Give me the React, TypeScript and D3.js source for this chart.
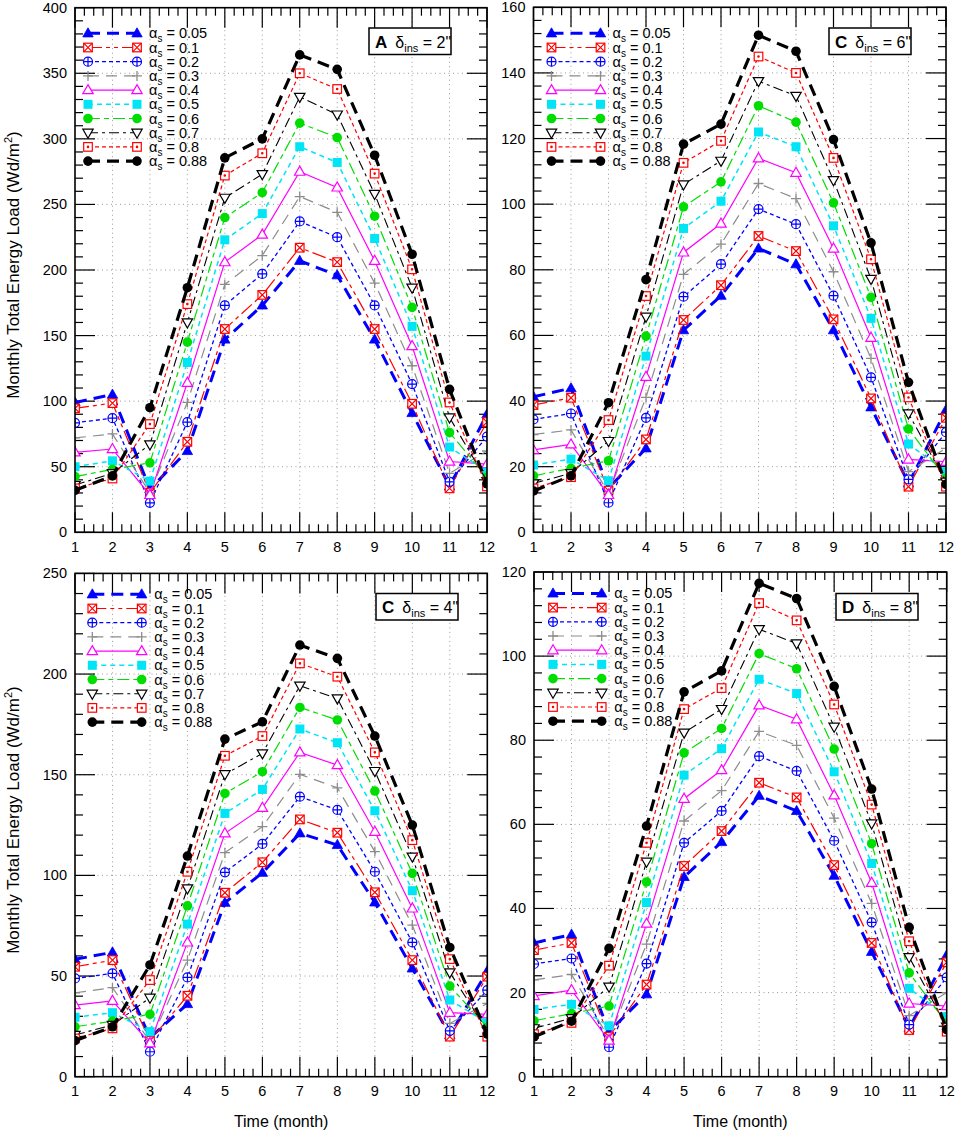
import React from "react";
import * as d3 from "d3";

// months on the x axis
const MONTHS = [1, 2, 3, 4, 5, 6, 7, 8, 9, 10, 11, 12];

// solar absorptivity of each curve
const ALPHAS = ["0.05", "0.1", "0.2", "0.3", "0.4", "0.5", "0.6", "0.7", "0.8", "0.88"];

// monthly total energy load (Wd/m2), one row per alpha, insulation 2"
const LOAD_2IN = [
    [99, 105, 33, 62, 147, 173, 207, 196, 147, 91, 35, 90],
    [94.5, 98.5, 30, 69, 155, 181, 217, 206, 155, 98, 33.5, 84],
    [83.5, 87, 22.5, 84, 173, 197, 237, 225, 173, 113, 38.5, 73],
    [72, 75, 30, 99, 189, 211, 256, 244, 190, 127, 45, 62],
    [61, 63.5, 28.5, 114, 206, 227, 275, 263, 207, 142, 54, 52],
    [50, 54.5, 39, 129.5, 223, 243, 294, 282, 224, 157, 65, 46],
    [42.5, 48, 53, 145, 240, 259, 312, 301, 241, 171.5, 76, 42],
    [36, 45, 67, 160, 255, 273, 332, 318.5, 258, 186.5, 87.5, 39],
    [33.5, 41, 82.5, 174, 272, 289, 350, 338, 273.5, 200.5, 99, 35],
    [32, 43, 95, 186.5, 285.5, 300, 364, 353, 287.5, 212, 109, 37],
];

// insulation 6"
const LOAD_6IN = [
    [41.3, 43.9, 13.4, 25.6, 61.6, 72.1, 86.5, 81.7, 61.6, 38.1, 14.9, 37.3],
    [38.8, 41, 12.7, 28.3, 64.7, 75.3, 90.3, 85.7, 64.9, 40.8, 13.9, 34.9],
    [34.4, 36.2, 9, 34.9, 71.8, 81.7, 98.5, 93.9, 72.1, 47.2, 16.1, 30.5],
    [29.8, 31.2, 11.9, 41.1, 78.6, 87.8, 106.3, 101.7, 79.4, 53, 18.5, 25.6],
    [25.1, 26.8, 11.4, 47.4, 85.3, 94.1, 114, 109.6, 86.5, 59.3, 22.2, 21.5],
    [20.5, 22.3, 15.7, 53.7, 92.6, 100.9, 122, 117.5, 93.4, 65.2, 26.9, 18.5],
    [17.2, 19.5, 21.8, 59.8, 99.2, 106.8, 130, 125, 100.4, 71.6, 31.5, 16.4],
    [14.9, 18, 27.8, 65.7, 106, 113.2, 137.5, 133, 107.3, 77.2, 36.2, 15.4],
    [13.4, 16.8, 34.2, 72, 112.6, 119.3, 145, 140, 114.1, 83.2, 41.1, 13.9],
    [12.6, 17.2, 39.5, 77, 118.3, 124.4, 151.5, 146.6, 119.7, 88.2, 45.7, 14.6],
];

// insulation 4"
const LOAD_4IN = [
    [58.3, 61.8, 19.4, 36.1, 86.4, 101.3, 120.9, 115.1, 86.6, 53.8, 20.7, 52.5],
    [54.6, 57.9, 17.9, 40.2, 91.4, 106.5, 127.8, 121.2, 91.6, 57.9, 19.9, 49.7],
    [48.8, 51.3, 12.4, 49.3, 101.5, 115.6, 139.1, 132.5, 101.8, 66.7, 22.8, 43],
    [41.7, 44.2, 17.4, 57.9, 111.3, 124.2, 150.2, 143.5, 111.8, 75.3, 26.5, 36.4],
    [35.6, 37.7, 16.6, 66.7, 120.9, 133.6, 161.1, 154.8, 121.7, 83.6, 31.8, 31],
    [29.5, 31.8, 22.4, 75.8, 130.8, 142.7, 172.7, 165.9, 132.1, 92.4, 38.1, 26.8],
    [24.8, 27.6, 31, 84.9, 140.7, 151.5, 183.4, 177.2, 141.9, 101, 45, 24.5],
    [20.7, 25.7, 39.2, 93.5, 150.2, 160.6, 194.2, 187.9, 151.8, 109.3, 51.8, 22.8],
    [19, 24, 48, 101.8, 159.4, 169.2, 205.3, 198.7, 161.1, 117.5, 58.4, 19.9],
    [17.9, 24.8, 55.5, 109.6, 167.7, 176.3, 214.4, 207.8, 169.2, 125, 64.2, 21.2],
];

// insulation 8"
const LOAD_8IN = [
    [31.8, 33.8, 10.7, 19.6, 47.5, 55.8, 66.8, 63.2, 47.8, 29.7, 11.5, 28.9],
    [30.1, 31.8, 9.5, 21.9, 50.1, 58.4, 69.9, 66.4, 50.3, 31.8, 11.1, 27.2],
    [26.8, 28.1, 7, 26.9, 55.6, 63.2, 76.2, 72.7, 56.1, 36.7, 12.4, 23.6],
    [23, 24.3, 9.1, 31.5, 60.8, 68, 82.1, 78.8, 61.5, 41.2, 14.5, 20],
    [19.2, 20.6, 8.6, 36.4, 66.1, 72.9, 88.3, 85, 66.9, 46.1, 17.4, 16.8],
    [16, 17.2, 12.1, 41.4, 71.7, 78, 94.5, 91.1, 72.5, 50.7, 21, 14.3],
    [13.3, 15, 16.8, 46.3, 77, 82.8, 100.6, 97, 77.9, 55.4, 24.7, 12.7],
    [11.5, 13.9, 21.4, 51.1, 81.8, 87.4, 106.4, 103, 83.2, 60.2, 28.4, 11.9],
    [10.1, 12.8, 26.4, 55.6, 87.4, 92.4, 112.6, 108.5, 88.5, 64.7, 32.2, 10.7],
    [9.5, 13.2, 30.5, 59.6, 91.5, 96.5, 117.3, 113.7, 92.8, 68.4, 35.5, 11.2],
];

const FONT = "'Liberation Sans', Arial, Helvetica, sans-serif";

type MarkerKind = "triUp" | "squareX" | "circlePlus" | "plus" | "triUpOpen" | "square" | "circle" | "triDown" | "squareDot";

interface SeriesStyle { color: string; width: number; dash: string; marker: MarkerKind }

const STYLES: SeriesStyle[] = [
    { color: "#0000ff", width: 3, dash: "12,7", marker: "triUp" },
    { color: "#ff0000", width: 1.2, dash: "14,4,4,4,4,4", marker: "squareX" },
    { color: "#0000ff", width: 1.3, dash: "4,3", marker: "circlePlus" },
    { color: "#8c8c8c", width: 1.2, dash: "11,7", marker: "plus" },
    { color: "#ff00ff", width: 1.2, dash: "", marker: "triUpOpen" },
    { color: "#00e5f5", width: 1.5, dash: "5,4", marker: "square" },
    { color: "#00dd00", width: 1.2, dash: "12,4,5,4", marker: "circle" },
    { color: "#000000", width: 1.1, dash: "10,4,3,4", marker: "triDown" },
    { color: "#ff0000", width: 1.2, dash: "4,3", marker: "squareDot" },
    { color: "#000000", width: 3.2, dash: "12,7", marker: "circle" },
];

interface PanelConfig {
    id: string;
    letter: string;
    ins: string;
    data: number[][];
    yMax: number;
    yStep: number;
    left: number;
    right: number;
    top: number;
    bottom: number;
    legend: [number, number, number, number];
    box: [number, number];
    yLabel: boolean;
    xLabel: boolean;
}

const PANELS: PanelConfig[] = [
    { id: "a", letter: "A", ins: "2\"", data: LOAD_2IN, yMax: 400, yStep: 50, left: 75, right: 487, top: 7.7, bottom: 532.3,
        legend: [88, 137, 149, 33.3], box: [369, 28], yLabel: true, xLabel: false },
    { id: "b", letter: "C", ins: "6\"", data: LOAD_6IN, yMax: 160, yStep: 20, left: 533.5, right: 946, top: 7.3, bottom: 532.3,
        legend: [551.5, 600.5, 612.5, 33.3], box: [829, 28], yLabel: false, xLabel: false },
    { id: "c", letter: "C", ins: "4\"", data: LOAD_4IN, yMax: 250, yStep: 50, left: 75, right: 487.3, top: 573.4, bottom: 1076.7,
        legend: [92.3, 141.7, 154.3, 594.3], box: [376, 593.5], yLabel: true, xLabel: true },
    { id: "d", letter: "D", ins: "8\"", data: LOAD_8IN, yMax: 120, yStep: 20, left: 534, right: 946.7, top: 572, bottom: 1076.7,
        legend: [553, 601.7, 614.3, 593.4], box: [836, 593.5], yLabel: false, xLabel: true },
];

function Marker({ kind, x, y, color }: { kind: MarkerKind; x: number; y: number; color: string }) {
    const sw = 1.2;
    switch (kind) {
        case "triUp":
            return <path d={`M${x},${y - 5.5}L${x + 5.2},${y + 3.6}L${x - 5.2},${y + 3.6}Z`} fill={color} stroke={color} strokeWidth={0.8} />;
        case "triUpOpen":
            return <path d={`M${x},${y - 5.5}L${x + 5.2},${y + 3.6}L${x - 5.2},${y + 3.6}Z`} fill="#fff" stroke={color} strokeWidth={sw} />;
        case "triDown":
            return <path d={`M${x},${y + 5.5}L${x + 5.2},${y - 3.6}L${x - 5.2},${y - 3.6}Z`} fill="#fff" stroke={color} strokeWidth={sw} />;
        case "square":
            return <rect x={x - 4.5} y={y - 4.5} width={9} height={9} fill={color} />;
        case "squareX":
            return <g stroke={color} strokeWidth={sw}>
                <rect x={x - 4.3} y={y - 4.3} width={8.6} height={8.6} fill="#fff" />
                <path d={`M${x - 4.3},${y - 4.3}L${x + 4.3},${y + 4.3}M${x + 4.3},${y - 4.3}L${x - 4.3},${y + 4.3}`} />
            </g>;
        case "squareDot":
            return <g stroke={color} strokeWidth={sw}>
                <rect x={x - 4.3} y={y - 4.3} width={8.6} height={8.6} fill="#fff" />
                <circle cx={x} cy={y} r={0.7} fill={color} />
            </g>;
        case "circlePlus":
            return <g stroke={color} strokeWidth={sw}>
                <circle cx={x} cy={y} r={4.5} fill="#fff" />
                <path d={`M${x - 4.5},${y}H${x + 4.5}M${x},${y - 4.5}V${y + 4.5}`} />
            </g>;
        case "plus":
            return <path d={`M${x - 5},${y}H${x + 5}M${x},${y - 5}V${y + 5}`} stroke={color} strokeWidth={1.3} />;
        case "circle":
            return <circle cx={x} cy={y} r={4.8} fill={color} />;
    }
}

function Panel({ cfg }: { cfg: PanelConfig }) {
    const x = d3.scaleLinear().domain([1, 12]).range([cfg.left, cfg.right]);
    const y = d3.scaleLinear().domain([0, cfg.yMax]).range([cfg.bottom, cfg.top]);
    const majorY = y.ticks(cfg.yMax / cfg.yStep);
    const minorY = d3.range(0, cfg.yMax + 0.001, cfg.yStep / 5).filter(v => Math.abs(v / cfg.yStep - Math.round(v / cfg.yStep)) > 1e-6);
    const minorX = d3.range(1, 12.001, 0.25).filter(v => v % 1 !== 0);
    const line = d3.line<number>().x((_, i) => x(MONTHS[i])).y(d => y(d));
    const clipId = `clip-${cfg.id}`;
    const [lx0, lx1, tx, ly0] = cfg.legend;
    const [bx, by] = cfg.box;
    const midY = (cfg.top + cfg.bottom) / 2;
    const midX = (cfg.left + cfg.right) / 2;

    return <g>
        <defs>
            <clipPath id={clipId}>
                <rect x={cfg.left} y={cfg.top} width={cfg.right - cfg.left} height={cfg.bottom - cfg.top} />
            </clipPath>
        </defs>

        {/* dotted grid */}
        <g stroke="#9a9a9a" strokeWidth={1} strokeDasharray="1,3.5">
            {MONTHS.slice(1, -1).map(m => <line key={`gx${m}`} x1={x(m)} x2={x(m)} y1={cfg.top} y2={cfg.bottom} />)}
            {majorY.slice(1, -1).map(v => <line key={`gy${v}`} x1={cfg.left} x2={cfg.right} y1={y(v)} y2={y(v)} />)}
        </g>

        {/* ticks, inward on all four sides */}
        <g stroke="#000" strokeWidth={1.2}>
            {MONTHS.map(m => <g key={`tx${m}`}>
                <line x1={x(m)} x2={x(m)} y1={cfg.bottom} y2={cfg.bottom - 20} />
                <line x1={x(m)} x2={x(m)} y1={cfg.top} y2={cfg.top + 20} />
            </g>)}
            {minorX.map(m => <g key={`mx${m}`}>
                <line x1={x(m)} x2={x(m)} y1={cfg.bottom} y2={cfg.bottom - 8} />
                <line x1={x(m)} x2={x(m)} y1={cfg.top} y2={cfg.top + 8} />
            </g>)}
            {majorY.map(v => <g key={`ty${v}`}>
                <line x1={cfg.left} x2={cfg.left + 20} y1={y(v)} y2={y(v)} />
                <line x1={cfg.right} x2={cfg.right - 20} y1={y(v)} y2={y(v)} />
            </g>)}
            {minorY.map(v => <g key={`my${v}`}>
                <line x1={cfg.left} x2={cfg.left + 8} y1={y(v)} y2={y(v)} />
                <line x1={cfg.right} x2={cfg.right - 8} y1={y(v)} y2={y(v)} />
            </g>)}
        </g>

        {/* series */}
        <g clipPath={`url(#${clipId})`}>
            {cfg.data.map((row, i) => {
                const st = STYLES[i];
                return <g key={`s${i}`}>
                    <path d={line(row) ?? ""} fill="none" stroke={st.color} strokeWidth={st.width}
                        strokeDasharray={st.dash || undefined} />
                    {row.map((v, j) => <Marker key={j} kind={st.marker} x={x(MONTHS[j])} y={y(v)} color={st.color} />)}
                </g>;
            })}
        </g>

        <rect x={cfg.left} y={cfg.top} width={cfg.right - cfg.left} height={cfg.bottom - cfg.top}
            fill="none" stroke="#000" strokeWidth={1.6} />

        {/* tick labels */}
        <g fontFamily={FONT} fontSize={14.5} fill="#000">
            {majorY.map(v => <text key={`ly${v}`} x={cfg.left - 8} y={y(v) + 5} textAnchor="end">{v}</text>)}
            {MONTHS.map(m => <text key={`lx${m}`} x={x(m)} y={cfg.bottom + 19.5} textAnchor="middle">{m}</text>)}
        </g>

        {/* legend */}
        <g fontFamily={FONT}>
            {ALPHAS.map((a, i) => {
                const st = STYLES[i];
                const ly = ly0 + i * 14.2;
                return <g key={`lg${i}`}>
                    <line x1={lx0} x2={lx1} y1={ly} y2={ly} stroke={st.color} strokeWidth={st.width}
                        strokeDasharray={st.dash || undefined} />
                    <Marker kind={st.marker} x={lx0} y={ly} color={st.color} />
                    <Marker kind={st.marker} x={lx1} y={ly} color={st.color} />
                    <text x={tx} y={ly + 5} fontSize={14.5}>α<tspan fontSize={10} dy={4}>s</tspan><tspan dy={-4}>{` = ${a}`}</tspan></text>
                </g>;
            })}
        </g>

        {/* panel title box */}
        <rect x={bx} y={by} width={82} height={26.5} fill="#fff" stroke="#000" strokeWidth={1.5} />
        <text x={bx + 6} y={by + 19.5} fontFamily={FONT} fontSize={16}>
            <tspan fontWeight="bold" fontSize={17}>{cfg.letter}</tspan>
            <tspan dx={8}>δ</tspan>
            <tspan fontSize={11} dy={4}>ins</tspan>
            <tspan dy={-4}>{` = ${cfg.ins}`}</tspan>
        </text>

        {cfg.yLabel && <text transform={`translate(19,${midY - 5}) rotate(-90)`} textAnchor="middle"
            fontFamily={FONT} fontSize={17}>
            Monthly Total Energy Load (Wd/m<tspan fontSize={11} dy={-7}>2</tspan><tspan dy={7}>)</tspan>
        </text>}
        {cfg.xLabel && <text x={midX} y={1127} textAnchor="middle" fontFamily={FONT} fontSize={16}>Time (month)</text>}
    </g>;
}

export default function App() {
    return <div style={{ position: "absolute", left: 0, top: 0 }}>
        <svg width={957} height={1135} viewBox="0 0 957 1135" style={{ display: "block", background: "#fff" }}>
            {PANELS.map(p => <Panel key={p.id} cfg={p} />)}
        </svg>
    </div>;
}
